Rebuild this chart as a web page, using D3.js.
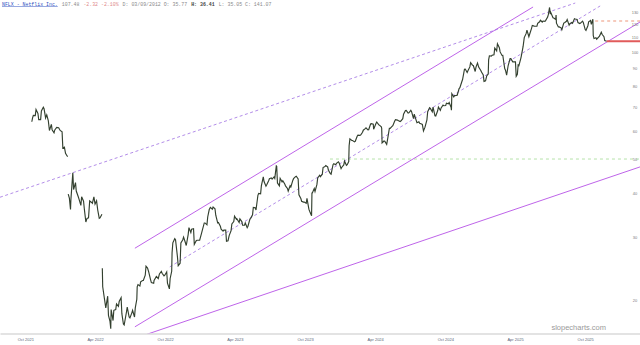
<!DOCTYPE html>
<html>
<head>
<meta charset="utf-8">
<script src="https://cdn.jsdelivr.net/npm/d3@7/dist/d3.min.js"></script>
<style>
  body { margin: 0; background: #fff; }
  svg { display: block; }
</style>
</head>
<body>
<svg id="chart" width="640" height="345"></svg>
<script>
"use strict"

// price ticks on the right (log scale) and date ticks at the bottom
const priceTicks = [130, 120, 110, 100, 90, 80, 70, 60, 50, 40, 30, 20];
const tickDates = ["2021-10-01", "2022-04-01", "2022-10-01", "2023-04-01", "2023-10-01",
                   "2024-04-01", "2024-10-01", "2025-04-01", "2025-10-01"];
const tickLabels = ["Oct 2021", "Apr 2022", "Oct 2022", "Apr 2023", "Oct 2023",
                    "Apr 2024", "Oct 2024", "Apr 2025", "Oct 2025"];

// NFLX closes, split adjusted, three pieces split by the two earnings gaps
const priceSeg1 = [
  ["2021-10-18",63.7],["2021-10-20",65.3],["2021-10-22",66.4],["2021-10-27",66.3],["2021-10-29",69.0],
  ["2021-11-03",67.2],["2021-11-05",64.6],["2021-11-10",64.6],["2021-11-12",68.3],["2021-11-17",70.0],
  ["2021-11-19",69.3],["2021-11-23",65.3],["2021-11-26",66.6],["2021-11-30",64.2],["2021-12-03",60.2],
  ["2021-12-08",62.6],["2021-12-10",60.5],["2021-12-15",59.3],["2021-12-17",60.4],["2021-12-22",61.4],
  ["2021-12-27",61.3],["2021-12-31",60.2],["2022-01-05",59.7],["2022-01-07",53.7],["2022-01-11",54.0],
  ["2022-01-14",51.9],["2022-01-18",51.0],["2022-01-20",50.8]
];
const priceSeg2 = [
  ["2022-01-21",39.8],["2022-01-24",38.8],["2022-01-27",36.0],["2022-01-28",38.4],["2022-02-02",45.7],
  ["2022-02-04",41.0],["2022-02-09",42.9],["2022-02-11",40.6],["2022-02-16",39.2],["2022-02-18",38.6],
  ["2022-02-23",37.0],["2022-02-25",39.1],["2022-03-02",38.0],["2022-03-04",36.2],["2022-03-08",33.2],
  ["2022-03-11",34.0],["2022-03-15",34.1],["2022-03-18",38.1],["2022-03-23",37.7],["2022-03-25",37.5],
  ["2022-03-29",39.1],["2022-04-01",37.3],["2022-04-05",38.1],["2022-04-08",35.9],["2022-04-12",34.0],
  ["2022-04-14",34.1],["2022-04-19",34.9]
];
const priceSeg3 = [
  ["2022-04-20",24.6],["2022-04-21",21.8],["2022-04-26",20.0],["2022-04-29",19.0],["2022-05-04",20.5],
  ["2022-05-06",18.1],["2022-05-10",17.4],["2022-05-12",16.6],["2022-05-13",18.8],["2022-05-18",17.5],
  ["2022-05-20",18.7],["2022-05-25",18.8],["2022-05-27",19.5],["2022-06-01",19.2],["2022-06-03",19.8],
  ["2022-06-08",20.3],["2022-06-10",18.3],["2022-06-14",17.1],["2022-06-16",17.0],["2022-06-22",18.5],
  ["2022-06-24",19.1],["2022-06-29",17.9],["2022-07-01",17.8],["2022-07-06",18.4],["2022-07-08",18.7],
  ["2022-07-13",17.9],["2022-07-15",19.0],["2022-07-19",20.1],["2022-07-20",21.8],["2022-07-22",22.1],
  ["2022-07-27",21.9],["2022-07-29",22.5],["2022-08-03",22.7],["2022-08-05",22.7],["2022-08-10",23.5],
  ["2022-08-12",24.9],["2022-08-16",24.6],["2022-08-19",24.0],["2022-08-24",22.8],["2022-08-26",22.4],
  ["2022-09-01",22.3],["2022-09-02",22.7],["2022-09-08",23.3],["2022-09-13",23.0],["2022-09-16",23.7],
  ["2022-09-21",24.1],["2022-09-23",23.8],["2022-09-28",23.4],["2022-09-30",23.5],["2022-10-05",24.0],
  ["2022-10-07",22.3],["2022-10-12",21.5],["2022-10-14",23.0],["2022-10-18",24.1],["2022-10-19",27.2],
  ["2022-10-21",29.0],["2022-10-26",29.8],["2022-10-28",29.6],["2022-11-02",26.5],["2022-11-04",25.0],
  ["2022-11-09",25.4],["2022-11-11",29.0],["2022-11-16",29.6],["2022-11-18",30.1],["2022-11-22",29.2],
  ["2022-11-25",28.5],["2022-11-30",30.6],["2022-12-02",32.0],["2022-12-07",31.0],["2022-12-09",31.7],
  ["2022-12-14",31.8],["2022-12-16",28.7],["2022-12-21",29.4],["2022-12-23",29.5],["2022-12-28",29.5],
  ["2022-12-30",29.5],["2023-01-04",30.9],["2023-01-06",31.5],["2023-01-11",33.0],["2023-01-13",33.0],
  ["2023-01-18",32.6],["2023-01-20",34.3],["2023-01-24",36.0],["2023-01-27",36.5],["2023-02-01",36.1],
  ["2023-02-03",36.6],["2023-02-08",36.2],["2023-02-10",34.7],["2023-02-15",33.0],["2023-02-17",33.1],
  ["2023-02-22",32.3],["2023-02-24",31.7],["2023-03-01",31.3],["2023-03-03",31.5],["2023-03-08",31.5],
  ["2023-03-10",29.3],["2023-03-14",29.4],["2023-03-17",30.4],["2023-03-22",31.4],["2023-03-24",32.8],
  ["2023-03-29",33.3],["2023-03-31",34.5],["2023-04-05",33.8],["2023-04-06",33.9],["2023-04-12",33.1],
  ["2023-04-14",33.9],["2023-04-19",33.3],["2023-04-21",32.5],["2023-04-26",32.5],["2023-04-28",33.0],
  ["2023-05-03",32.0],["2023-05-05",32.3],["2023-05-10",33.8],["2023-05-12",34.0],["2023-05-17",34.8],
  ["2023-05-19",36.5],["2023-05-24",36.4],["2023-05-26",35.9],["2023-05-31",39.5],["2023-06-02",40.0],
  ["2023-06-07",39.9],["2023-06-09",42.0],["2023-06-14",44.5],["2023-06-16",43.2],["2023-06-21",41.9],
  ["2023-06-23",42.3],["2023-06-28",43.4],["2023-06-30",44.0],["2023-07-05",44.2],["2023-07-07",43.9],
  ["2023-07-12",44.5],["2023-07-14",44.1],["2023-07-18",47.8],["2023-07-19",47.7],["2023-07-21",42.8],
  ["2023-07-26",42.0],["2023-07-28",44.1],["2023-08-02",43.1],["2023-08-04",43.4],["2023-08-09",42.5],
  ["2023-08-11",42.0],["2023-08-16",41.3],["2023-08-18",40.6],["2023-08-23",42.0],["2023-08-25",41.7],
  ["2023-08-30",43.5],["2023-09-01",44.0],["2023-09-06",44.6],["2023-09-08",44.7],["2023-09-13",43.9],
  ["2023-09-15",39.6],["2023-09-20",38.7],["2023-09-22",38.0],["2023-09-27",37.8],["2023-09-29",37.8],
  ["2023-10-04",37.5],["2023-10-06",38.7],["2023-10-11",36.1],["2023-10-13",35.6],["2023-10-18",34.6],
  ["2023-10-19",40.1],["2023-10-20",40.1],["2023-10-25",41.3],["2023-10-27",40.5],["2023-11-01",42.4],
  ["2023-11-03",44.2],["2023-11-08",45.0],["2023-11-10",44.6],["2023-11-15",45.3],["2023-11-17",47.3],
  ["2023-11-22",47.6],["2023-11-24",47.9],["2023-11-29",47.5],["2023-12-01",46.5],["2023-12-06",45.5],
  ["2023-12-08",45.3],["2023-12-13",48.2],["2023-12-15",48.5],["2023-12-20",48.2],["2023-12-22",48.6],
  ["2023-12-27",49.1],["2023-12-29",48.7],["2024-01-03",47.0],["2024-01-05",47.4],["2024-01-10",48.1],
  ["2024-01-12",49.3],["2024-01-17",48.0],["2024-01-19",48.2],["2024-01-23",49.2],["2024-01-24",54.5],
  ["2024-01-26",57.0],["2024-01-31",56.4],["2024-02-02",56.4],["2024-02-07",55.9],["2024-02-09",56.1],
  ["2024-02-14",58.0],["2024-02-16",58.4],["2024-02-21",58.3],["2024-02-23",58.4],["2024-02-28",59.5],
  ["2024-03-01",60.3],["2024-03-06",60.9],["2024-03-08",61.2],["2024-03-13",60.4],["2024-03-15",60.5],
  ["2024-03-20",62.8],["2024-03-22",62.9],["2024-03-27",62.7],["2024-03-28",60.7],["2024-04-03",63.0],
  ["2024-04-05",63.6],["2024-04-10",62.5],["2024-04-12",62.3],["2024-04-17",61.6],["2024-04-18",61.0],
  ["2024-04-19",55.5],["2024-04-24",56.2],["2024-04-26",56.1],["2024-05-01",55.0],["2024-05-03",56.5],
  ["2024-05-08",61.0],["2024-05-10",61.0],["2024-05-15",61.8],["2024-05-17",62.1],["2024-05-22",64.0],
  ["2024-05-24",64.6],["2024-05-29",64.4],["2024-05-31",64.2],["2024-06-05",63.8],["2024-06-07",64.0],
  ["2024-06-12",65.0],["2024-06-14",66.9],["2024-06-19",68.5],["2024-06-21",68.6],["2024-06-26",67.4],
  ["2024-06-28",67.5],["2024-07-03",68.6],["2024-07-05",68.0],["2024-07-10",65.0],["2024-07-12",66.9],
  ["2024-07-17",64.3],["2024-07-19",63.3],["2024-07-24",63.7],["2024-07-26",63.1],["2024-07-31",62.8],
  ["2024-08-02",62.6],["2024-08-05",60.0],["2024-08-09",61.5],["2024-08-14",64.5],["2024-08-16",68.0],
  ["2024-08-21",69.8],["2024-08-23",69.5],["2024-08-28",68.0],["2024-08-30",70.1],["2024-09-04",66.2],
  ["2024-09-06",66.1],["2024-09-11",68.4],["2024-09-13",70.1],["2024-09-18",68.6],["2024-09-20",69.7],
  ["2024-09-25",71.0],["2024-09-27",70.7],["2024-10-02",70.8],["2024-10-04",71.9],["2024-10-09",71.6],
  ["2024-10-11",72.2],["2024-10-16",70.0],["2024-10-17",68.7],["2024-10-18",76.4],["2024-10-23",74.9],
  ["2024-10-25",75.5],["2024-10-30",75.6],["2024-11-01",75.7],["2024-11-06",79.0],["2024-11-08",79.5],
  ["2024-11-13",82.6],["2024-11-15",83.8],["2024-11-20",89.6],["2024-11-22",89.7],["2024-11-27",87.7],
  ["2024-11-29",88.7],["2024-12-04",91.0],["2024-12-06",93.5],["2024-12-11",92.0],["2024-12-13",91.8],
  ["2024-12-18",88.3],["2024-12-20",90.9],["2024-12-24",93.3],["2024-12-27",90.9],["2025-01-02",88.7],
  ["2025-01-03",88.1],["2025-01-08",86.4],["2025-01-10",82.8],["2025-01-14",83.1],["2025-01-17",85.8],
  ["2025-01-21",86.9],["2025-01-22",95.3],["2025-01-24",97.8],["2025-01-29",97.6],["2025-01-31",98.1],
  ["2025-02-05",98.5],["2025-02-07",102.8],["2025-02-12",101.0],["2025-02-14",105.8],["2025-02-19",103.1],
  ["2025-02-21",100.3],["2025-02-26",98.0],["2025-02-28",98.1],["2025-03-05",90.0],["2025-03-07",89.1],
  ["2025-03-10",86.3],["2025-03-14",91.8],["2025-03-19",96.0],["2025-03-21",96.0],["2025-03-26",94.0],
  ["2025-03-28",94.0],["2025-04-02",94.0],["2025-04-04",85.6],["2025-04-07",86.7],["2025-04-09",92.1],
  ["2025-04-11",91.8],["2025-04-16",96.2],["2025-04-17",97.3],["2025-04-22",103.9],["2025-04-25",110.1],
  ["2025-04-30",113.1],["2025-05-02",115.6],["2025-05-07",110.7],["2025-05-09",112.5],["2025-05-14",116.9],
  ["2025-05-16",119.1],["2025-05-21",118.6],["2025-05-23",118.5],["2025-05-28",118.6],["2025-05-30",120.7],
  ["2025-06-04",122.0],["2025-06-06",123.2],["2025-06-11",121.8],["2025-06-13",122.6],["2025-06-18",122.3],
  ["2025-06-20",123.1],["2025-06-25",125.8],["2025-06-27",128.0],["2025-06-30",133.9],["2025-07-02",128.2],
  ["2025-07-03",129.7],["2025-07-09",125.2],["2025-07-11",125.0],["2025-07-16",123.8],["2025-07-17",127.4],
  ["2025-07-18",120.9],["2025-07-23",118.0],["2025-07-25",118.0],["2025-07-30",117.3],["2025-08-01",115.9],
  ["2025-08-06",121.0],["2025-08-08",121.3],["2025-08-13",122.4],["2025-08-15",123.8],["2025-08-20",119.4],
  ["2025-08-22",120.5],["2025-08-27",121.4],["2025-08-29",120.8],["2025-09-03",124.4],["2025-09-05",124.2],
  ["2025-09-10",123.9],["2025-09-12",121.4],["2025-09-17",120.6],["2025-09-19",121.0],["2025-09-24",122.5],
  ["2025-09-26",121.5],["2025-10-01",116.0],["2025-10-03",115.3],["2025-10-08",118.9],["2025-10-10",122.0],
  ["2025-10-15",123.0],["2025-10-17",120.0],["2025-10-21",124.1],["2025-10-22",111.6],["2025-10-24",109.4],
  ["2025-10-29",110.0],["2025-10-31",108.9],["2025-11-05",110.5],["2025-11-07",111.0],["2025-11-12",114.0],
  ["2025-11-14",112.5],["2025-11-19",110.7],["2025-11-21",108.0],["2025-11-26",107.48]
];

// drawn trend lines: [start date, start price, end date, end price]
const solidLines = [
  ["2022-07-14", 28.0, "2025-05-18", 134.3],   // channel top
  ["2022-07-14", 16.8, "2026-02-21", 121.8],   // channel bottom
  ["2022-08-14", 16.0, "2026-02-21", 47.5]     // long lower line
];
const dashedLines = [
  ["2021-07-27", 39.0, "2025-09-05", 137.8],   // long dashed line from the left
  ["2022-10-13", 24.8, "2025-11-09", 135.2]    // channel middle
];
// horizontal levels: [start date, price]
const lastPrice = ["2025-11-26", 107.48];
const peachLevel = ["2025-10-27", 122.6];
const greenLevel = ["2023-12-05", 50.0];

const W = 640, H = 345, plotBottom = 333.5;
const parse = d3.timeParse("%Y-%m-%d");

let svg = d3.select("#chart");
svg.append("rect").attr("width", W).attr("height", H).attr("fill", "#fff");

let x = d3.scaleTime()
    .domain([parse("2021-07-27"), parse("2026-02-21")])
    .range([0, W]);
let y = d3.scaleLog()
    .domain([20, 130])
    .range([300, 12]);

svg.append("clipPath").attr("id", "plotClip")
    .append("rect").attr("x", 0).attr("y", 0).attr("width", W).attr("height", plotBottom);

let plot = svg.append("g").attr("clip-path", "url(#plotClip)");

/* horizontal levels */
plot.append("line")
    .attr("x1", x(parse(greenLevel[0]))).attr("x2", W)
    .attr("y1", y(greenLevel[1])).attr("y2", y(greenLevel[1]))
    .attr("stroke", "#b6e2ab").attr("stroke-width", 1)
    .attr("stroke-dasharray", "3,3");

plot.append("line")
    .attr("x1", x(parse(peachLevel[0]))).attr("x2", W)
    .attr("y1", y(peachLevel[1])).attr("y2", y(peachLevel[1]))
    .attr("stroke", "#f3b9a6").attr("stroke-width", 1.3)
    .attr("stroke-dasharray", "3,3");

/* trend lines */
plot.selectAll(".solid").data(solidLines).enter().append("line")
    .attr("x1", d => x(parse(d[0]))).attr("y1", d => y(d[1]))
    .attr("x2", d => x(parse(d[2]))).attr("y2", d => y(d[3]))
    .attr("stroke", "#b752e6").attr("stroke-width", 0.9);

plot.selectAll(".dashed").data(dashedLines).enter().append("line")
    .attr("x1", d => x(parse(d[0]))).attr("y1", d => y(d[1]))
    .attr("x2", d => x(parse(d[2]))).attr("y2", d => y(d[3]))
    .attr("stroke", "#a070e2").attr("stroke-width", 0.8)
    .attr("stroke-dasharray", "3,2.5");

/* price */
let priceLine = d3.line()
    .x(d => x(parse(d[0])))
    .y(d => y(d[1]));

[priceSeg1, priceSeg2, priceSeg3].forEach(seg => {
    plot.append("path")
        .attr("d", priceLine(seg))
        .attr("fill", "none")
        .attr("stroke", "#33402f")
        .attr("stroke-width", 1.15)
        .attr("stroke-linejoin", "miter");
});

/* last price marker */
plot.append("line")
    .attr("x1", x(parse(lastPrice[0]))).attr("x2", W)
    .attr("y1", y(lastPrice[1])).attr("y2", y(lastPrice[1]))
    .attr("stroke", "#e15b5b").attr("stroke-width", 2);

/* axes */
let xAxis = svg.append("g")
    .attr("transform", "translate(0," + plotBottom + ")")
    .call(d3.axisBottom(x)
        .tickValues(tickDates.map(parse))
        .tickFormat((d, i) => tickLabels[i])
        .tickSize(0)
        .tickPadding(5));
xAxis.select(".domain").attr("stroke", "#c8c8c8").attr("stroke-width", 1.2);
xAxis.selectAll("text")
    .attr("font-family", "Liberation Sans, Arial, sans-serif")
    .attr("font-size", 4)
    .attr("fill", "#5a6478");

let yAxis = svg.append("g")
    .attr("transform", "translate(635,0)")
    .call(d3.axisRight(y)
        .tickValues(priceTicks)
        .tickFormat(d3.format("d"))
        .tickSize(0)
        .tickPadding(0));
yAxis.select(".domain").remove();
yAxis.selectAll("text")
    .attr("text-anchor", "middle")
    .attr("font-family", "Liberation Sans, Arial, sans-serif")
    .attr("font-size", 4)
    .attr("fill", "#7a7a7a");

/* watermark */
svg.append("text")
    .attr("x", 606).attr("y", 330)
    .attr("text-anchor", "end")
    .attr("font-family", "Liberation Sans, Arial, sans-serif")
    .attr("font-size", 7.5)
    .attr("fill", "#9a9a9a")
    .text("slopecharts.com");

/* header */
let header = svg.append("text")
    .attr("x", 2).attr("y", 5.5)
    .attr("font-family", "Liberation Mono, DejaVu Sans Mono, monospace")
    .attr("font-size", 4.9);
header.append("tspan").attr("fill", "#2e4fc0").attr("text-decoration", "underline")
    .text("NFLX - Netflix Inc.");
header.append("tspan").attr("fill", "#8a8a8a").attr("dx", 4).text("107.48");
header.append("tspan").attr("fill", "#e08a8a").attr("dx", 4).text("-2.32  -2.10%");
header.append("tspan").attr("fill", "#8a8a8a").attr("dx", 4).text("D: 03/09/2012  O:  35.77");
header.append("tspan").attr("fill", "#444").attr("font-weight", "bold").attr("dx", 4).text("H:  36.41");
header.append("tspan").attr("fill", "#8a8a8a").attr("dx", 4).text("L:  35.05  C: 141.07");
</script>
</body>
</html>
